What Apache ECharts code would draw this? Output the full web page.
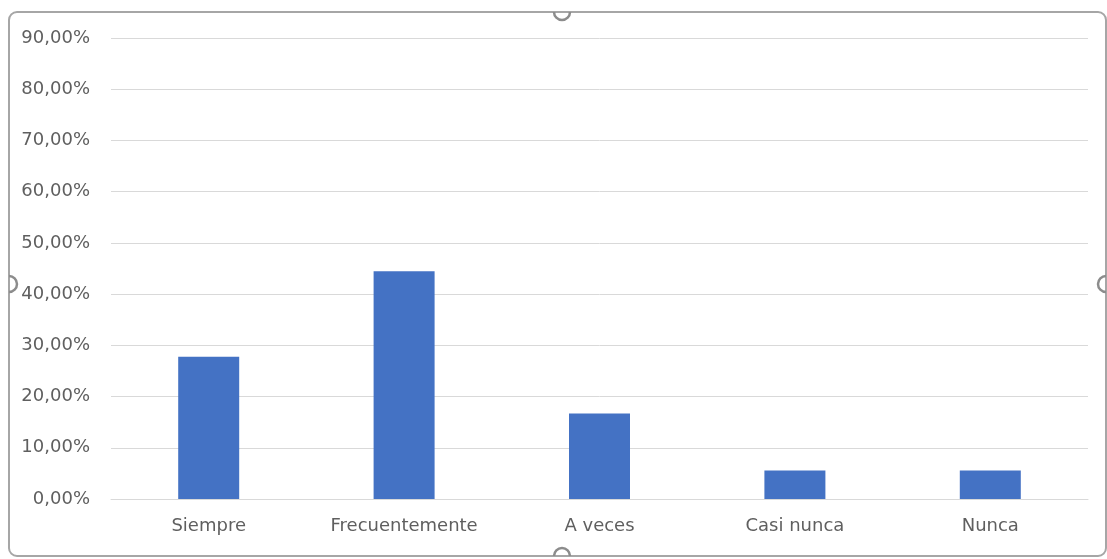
<!DOCTYPE html>
<html>
<head>
<meta charset="utf-8">
<script src="https://cdn.jsdelivr.net/npm/echarts@6/dist/echarts.min.js"></script>
<style>
html,body{margin:0;padding:0;background:#fff;}
#c{width:1107px;height:559px;}
</style>
</head>
<body>
<div id="c"></div>
<script>
const categories = ['Siempre', 'Frecuentemente', 'A veces', 'Casi nunca', 'Nunca'];
const values = [27.78, 44.44, 16.67, 5.56, 5.56];
const yMin = 0, yMax = 90, yStep = 10;

const chart = echarts.init(document.getElementById('c'));
const font = 'DejaVu Sans';
const handle = {fill: 'none', stroke: '#8c8c8c', lineWidth: 2.5};
chart.setOption({
  animation: false,
  backgroundColor: '#ffffff',
  grid: {left: 111, right: 19, top: 38, bottom: 60, containLabel: false},
  xAxis: {
    type: 'category',
    data: categories,
    axisLine: {show: true, lineStyle: {color: '#d9d9d9', width: 1}},
    axisTick: {show: false},
    axisLabel: {color: '#5f5f5f', fontFamily: font, fontSize: 18, margin: 18}
  },
  yAxis: {
    type: 'value',
    min: yMin, max: yMax, interval: yStep,
    axisLine: {show: false},
    axisTick: {show: false},
    splitLine: {lineStyle: {color: '#d9d9d9', width: 1}},
    axisLabel: {
      color: '#5f5f5f', fontFamily: font, fontSize: 18, margin: 21,
      formatter: v => v.toFixed(2).replace('.', ',') + '%'
    }
  },
  series: [{
    type: 'bar',
    data: values,
    barWidth: 61,
    itemStyle: {color: '#4472c4'}
  }],
  graphic: [
    {type: 'rect', shape: {x: 9, y: 12, width: 1097, height: 544, r: 8},
     style: {fill: 'none', stroke: '#a6a6a6', lineWidth: 2}, silent: true, z: 100},
    {type: 'arc', shape: {cx: 562, cy: 12, r: 8, startAngle: 0, endAngle: Math.PI, clockwise: true},
     style: handle, silent: true, z: 101},
    {type: 'arc', shape: {cx: 562, cy: 556, r: 8, startAngle: Math.PI, endAngle: 2 * Math.PI, clockwise: true},
     style: handle, silent: true, z: 101},
    {type: 'arc', shape: {cx: 9, cy: 284, r: 8, startAngle: -Math.PI / 2, endAngle: Math.PI / 2, clockwise: true},
     style: handle, silent: true, z: 101},
    {type: 'arc', shape: {cx: 1106, cy: 284, r: 8, startAngle: Math.PI / 2, endAngle: 3 * Math.PI / 2, clockwise: true},
     style: handle, silent: true, z: 101}
  ]
});
</script>
</body>
</html>
